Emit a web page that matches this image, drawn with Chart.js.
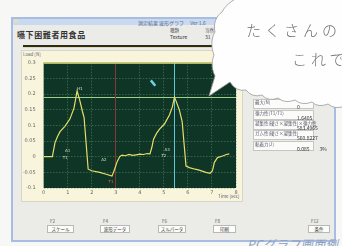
<!DOCTYPE html>
<html><head><meta charset="utf-8">
<script src="https://cdn.jsdelivr.net/npm/chart.js@4/dist/chart.umd.min.js"></script>
<style>
html,body{margin:0;padding:0;}
body{width:342px;height:246px;overflow:hidden;background:#f7f7f5;position:relative;font-family:"Noto Sans CJK JP","Noto Sans",sans-serif;}
.abs{position:absolute;white-space:nowrap;}
#win{left:11px;top:17px;width:321px;height:221px;border:2px solid #a9bde3;background:#ebebe8;}
#title{left:13px;top:19px;width:321px;height:6px;background:#c9d9ef;}
.t5{font-size:5px;line-height:5px;color:#445;}
.t4{font-size:4.5px;line-height:5px;color:#556;}
#panel{left:21px;top:50px;width:222px;height:152px;background:#f8f5dc;border:1px solid #d8d6c6;box-sizing:border-box;}
#chartbox{left:21px;top:50px;width:222px;height:150px;}
.btn{height:8px;background:#fdfdfb;border:1px solid #b9b9b4;box-sizing:border-box;font-size:4.5px;line-height:7px;text-align:center;color:#333;}
.row{left:253px;width:61px;background:#fbfbfa;border:1px solid #c5c5c2;box-sizing:border-box;}
</style></head><body>
<div id="win" class="abs"></div>
<div id="title" class="abs"></div>
<div class="abs" style="left:14px;top:19px;width:4px;height:4px;border-radius:2px;background:#e6e0b0;"></div>
<div class="abs t5" style="left:138px;top:19.5px;color:#556a90;">測定結果 波形グラフ　 Ver 1.6</div>
<div class="abs" style="left:17px;top:29px;font-size:8px;font-weight:bold;color:#333;letter-spacing:0.6px;">嚥下困難者用食品</div>
<div class="abs t4" style="left:170px;top:28px;">種類</div>
<div class="abs t5" style="left:170px;top:34px;color:#333;">Texture</div>
<div class="abs t4" style="left:205px;top:28px;">当然</div>
<div class="abs t5" style="left:205px;top:34px;color:#333;">31</div>
<div class="abs" style="left:23px;top:45px;width:192px;height:1.6px;background:#2a2a2a;"></div>
<div class="abs" style="left:23px;top:46.8px;width:192px;height:1px;background:#e6dc9a;"></div>
<div id="panel" class="abs"></div>
<div class="abs t4" style="left:23px;top:51.5px;color:#667;">Load [N]</div>
<div id="chartbox" class="abs"><canvas id="c" width="222" height="150"></canvas></div>
<div class="abs t4" style="left:218px;top:194px;color:#667;">Time [sec]</div>

<div class="abs row" style="top:99px;height:10px;"></div>
<div class="abs t4" style="left:255px;top:99.5px;">最大(N)</div>
<div class="abs t5" style="left:297px;top:103.5px;color:#333;">0</div>
<div class="abs row" style="top:110px;height:10px;"></div>
<div class="abs t4" style="left:255px;top:110.5px;">弾力性(T1/T1)</div>
<div class="abs t5" style="left:297px;top:114.5px;color:#333;">1.6405</div>
<div class="abs row" style="top:120px;height:10px;"></div>
<div class="abs t4" style="left:255px;top:120.5px;">凝集性(硬さ×凝集性)×弾力性</div>
<div class="abs t5" style="left:297px;top:124.5px;color:#333;">583.4965</div>
<div class="abs row" style="top:130px;height:10px;"></div>
<div class="abs t4" style="left:255px;top:130.5px;">ガム性(硬さ×凝集性)</div>
<div class="abs t5" style="left:297px;top:134.5px;color:#333;">560.8227</div>
<div class="abs row" style="top:141px;height:10px;"></div>
<div class="abs t4" style="left:255px;top:141.5px;">粘着力(J)</div>
<div class="abs t5" style="left:297px;top:145.5px;color:#333;">0.085　　3%</div>

<div class="abs t4" style="left:50px;top:219px;">F2</div>
<div class="abs btn" style="left:47px;top:225px;width:27px;">スケール</div>
<div class="abs t4" style="left:103px;top:219px;">F4</div>
<div class="abs btn" style="left:100px;top:225px;width:30px;">波形データ</div>
<div class="abs t4" style="left:162px;top:219px;">F6</div>
<div class="abs btn" style="left:158px;top:225px;width:28px;">スルパータ</div>
<div class="abs t4" style="left:215px;top:219px;">F8</div>
<div class="abs btn" style="left:213px;top:225px;width:23px;">印刷</div>
<div class="abs t4" style="left:311px;top:219px;">F12</div>
<div class="abs btn" style="left:308px;top:225px;width:22px;">条件</div>

<div class="abs" style="left:247px;top:237px;font-size:12px;line-height:14px;color:#8d9fc2;font-style:italic;letter-spacing:0.5px;">PCグラフ画面例</div>

<svg class="abs" style="left:0;top:0;" width="342" height="246" viewBox="0 0 342 246">
<path d="M 245 -5 C 235 -2, 226 4, 222 12 C 216 16, 213 24, 215 32 C 211 38, 211 48, 214 55 C 211 62, 212 70, 215 76 L 209 96 L 230 82 Q 236 92, 246 90 Q 252 98, 262 95 Q 268 102, 278 98 Q 285 104, 295 100 Q 302 106, 312 102 Q 318 108, 328 104 Q 335 110, 345 106 L 345 -5 Z" fill="#fefefe" stroke="#9a9a9a" stroke-width="0.8"/>
</svg>
<div class="abs" style="left:246px;top:21px;font-size:15px;line-height:18px;color:#707070;letter-spacing:4px;font-weight:300;">たくさんの</div>
<div class="abs" style="left:292px;top:50px;font-size:15px;line-height:18px;color:#707070;letter-spacing:4px;font-weight:300;">これで</div>

<script>
const timeSec = [0,0.36,0.47,0.58,0.68,0.88,1.09,1.26,1.39,1.50,1.61,1.68,1.85,2.0,2.33,2.6,2.84,2.95,3.06,3.16,3.26,3.4,3.55,3.7,3.85,4.0,4.15,4.3,4.42,4.5,4.57,4.7,4.82,5.03,5.23,5.35,5.44,5.52,5.64,5.76,5.92,6.06,6.3,6.47,6.75,6.92,7.02,7.1,7.23,7.44,7.6,7.72];
const loadN = [0,0,0.045,0.065,0.08,0.097,0.12,0.155,0.21,0.18,0.145,0.125,-0.04,-0.045,-0.05,-0.056,-0.062,-0.04,-0.015,0.0,0.005,0.003,0.007,0.004,0.006,0.008,0.007,0.01,0.009,0.03,0.056,0.075,0.088,0.105,0.133,0.158,0.19,0.175,0.15,0.112,-0.03,-0.035,-0.04,-0.043,-0.05,-0.053,-0.045,-0.018,-0.003,0.002,0.007,0.009];
const xTickLabels = ['0','1','2','3','4','5','6','7','8'];
const yTickLabels = ['-0.1','-0.05','0','0.05','0.1','0.15','0.2','0.25','0.3'];
const thresholdLoad = 0.19;
const cursorTimes = [2.95, 5.44];
const cursorColors = ['#8a3434', '#62c8d8'];
const annoText = ['H1','A1','T1','A2','T1','A3','T2'];
const annoTime = [1.5,1.0,0.9,2.5,2.8,5.14,5.0];
const annoLoad = [0.215,0.017,-0.004,-0.01,-0.08,0.02,0.002];
const annoColor = ['#e8e8d0','#d8dcc8','#d8dcc8','#d8dcc8','#e06060','#d8dcc8','#d8dcc8'];
const pointerPos = [{x:4.55, y:0.235}];

const plotBg = {
  id:'plotBg',
  beforeDraw(ch){
    const {ctx, chartArea:a} = ch;
    ctx.save(); ctx.fillStyle='#0f3526'; ctx.fillRect(a.left,a.top,a.right-a.left,a.bottom-a.top); ctx.restore();
  },
  beforeDatasetsDraw(ch){
    const {ctx, chartArea:a, scales:{x,y}} = ch;
    ctx.save();
    ctx.lineWidth=1;
    ctx.strokeStyle='#9fd08a';
    const yy=Math.round(y.getPixelForValue(thresholdLoad))+0.5;
    ctx.beginPath(); ctx.moveTo(a.left,yy); ctx.lineTo(a.right,yy); ctx.stroke();
    cursorTimes.forEach((t,i)=>{
      const xx=Math.round(x.getPixelForValue(t))+0.5;
      ctx.strokeStyle=cursorColors[i];
      ctx.beginPath(); ctx.moveTo(xx,a.top); ctx.lineTo(xx,a.bottom); ctx.stroke();
    });
    ctx.strokeStyle='#e8e070'; ctx.lineWidth=1.2;
    ctx.beginPath(); ctx.moveTo(a.left,a.top+0.5); ctx.lineTo(a.right,a.top+0.5); ctx.stroke();
    ctx.restore();
  },
  afterDatasetsDraw(ch){
    const {ctx, scales:{x,y}} = ch;
    ctx.save();
    ctx.font='4px "DejaVu Sans"'; ctx.textAlign='center'; ctx.textBaseline='middle';
    annoText.forEach((s,i)=>{
      ctx.fillStyle=annoColor[i];
      ctx.fillText(s, x.getPixelForValue(annoTime[i]), y.getPixelForValue(annoLoad[i]));
    });
    ctx.restore();
  }
};

new Chart(document.getElementById('c'), {
  type:'line',
  data:{datasets:[
    {data: timeSec.map((t,i)=>({x:t,y:loadN[i]})), borderColor:'#e6de6a', borderWidth:1.2, pointRadius:0, tension:0, fill:false},
    {type:'scatter', data: pointerPos, pointStyle:'line', rotation:50, pointRadius:3.5, borderWidth:2.5, borderColor:'#6fd2e2', backgroundColor:'#6fd2e2'}
  ]},
  options:{
    responsive:false, animation:false, devicePixelRatio:1,
    layout:{padding:{top:12.7,right:7,left:0,bottom:0}},
    plugins:{legend:{display:false}, tooltip:{enabled:false}},
    scales:{
      x:{type:'linear', min:0, max:8,
        afterFit(s){ s.height=12; },
        ticks:{stepSize:1, autoSkip:false, maxRotation:0, padding:2, color:'#666', font:{size:5, family:'DejaVu Sans'},
          callback:(v,i)=>xTickLabels[i]},
        grid:{color:'rgba(95,160,110,0.75)', lineWidth:0.6, drawTicks:false},
        border:{display:false, dash:[1.5,1.5]}
      },
      y:{type:'linear', min:-0.1, max:0.3,
        afterFit(s){ s.width=22.7; },
        ticks:{stepSize:0.05, autoSkip:false, padding:8, color:'#666', font:{size:5, family:'DejaVu Sans'},
          callback:(v,i)=>yTickLabels[i]},
        grid:{color:'rgba(95,160,110,0.75)', lineWidth:0.6, drawTicks:false},
        border:{display:false, dash:[1.5,1.5]}
      }
    }
  },
  plugins:[plotBg]
});
</script>
</body></html>
